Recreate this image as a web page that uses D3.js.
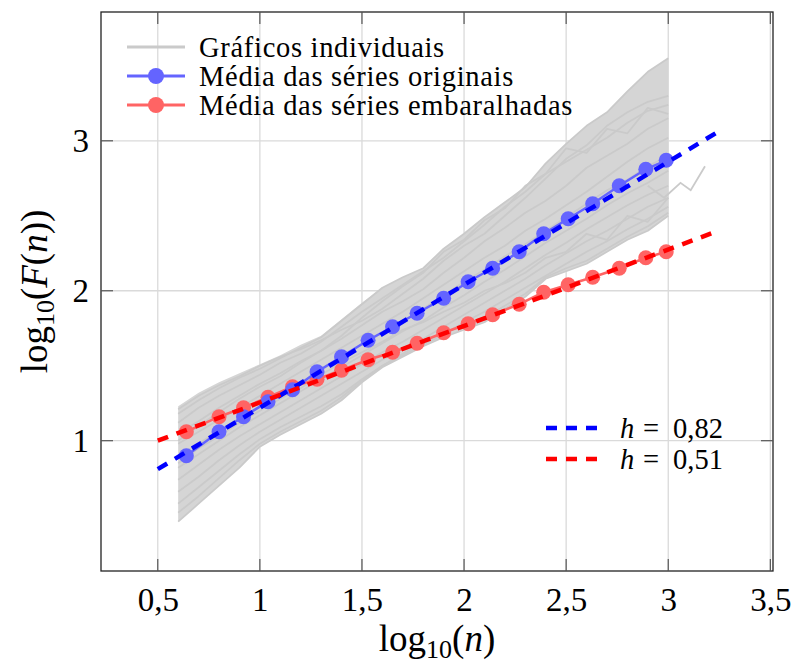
<!DOCTYPE html>
<html>
<head>
<meta charset="utf-8">
<script src="https://cdn.jsdelivr.net/npm/d3@7"></script>
<style>
  body { margin: 0; background: #fff; }
  svg text { font-family: "Liberation Serif", "Times New Roman", serif; fill: #000; }
</style>
</head>
<body>
<svg id="chart" width="794" height="669"></svg>
<script>
// ----- data (log10 n  vs  log10 F(n)) -----
var meanX     = [0.64, 0.80, 0.92, 1.04, 1.16, 1.28, 1.40, 1.53, 1.65, 1.77,
                 1.90, 2.02, 2.14, 2.27, 2.39, 2.51, 2.63, 2.76, 2.89, 2.99];
var meanOrig  = [0.90, 1.06, 1.16, 1.26, 1.34, 1.46, 1.56, 1.67, 1.76, 1.85,
                 1.95, 2.06, 2.15, 2.26, 2.38, 2.48, 2.58, 2.70, 2.81, 2.87];
var meanShuf  = [1.06, 1.16, 1.22, 1.29, 1.36, 1.41, 1.47, 1.54, 1.59, 1.65,
                 1.72, 1.78, 1.84, 1.91, 1.99, 2.04, 2.09, 2.15, 2.22, 2.26];

// fitted lines  y = h*x + b
var fitH      = [0.82, 0.51];
var fitB      = [0.40, 0.745];
var fitLabels = ["0,82", "0,51"];
var fitRange  = [0.5, 3.24];

// individual series (grey)
var indivX = [0.6, 0.7, 0.8, 0.9, 1.0, 1.1, 1.2, 1.3, 1.4, 1.5, 1.6, 1.7, 1.8,
              1.9, 2.0, 2.1, 2.2, 2.3, 2.4, 2.5, 2.6, 2.7, 2.8, 2.9, 3.0];
var bandUpper = [1.23, 1.32, 1.39, 1.45, 1.51, 1.57, 1.64, 1.70, 1.81, 1.92, 2.02, 2.09, 2.15,
                 2.28, 2.38, 2.49, 2.59, 2.69, 2.85, 2.98, 3.10, 3.19, 3.33, 3.46, 3.55];
var bandLower = [0.46, 0.58, 0.70, 0.82, 0.96, 1.04, 1.11, 1.18, 1.27, 1.39, 1.49, 1.56, 1.63,
                 1.69, 1.74, 1.79, 1.88, 1.96, 2.08, 2.13, 2.18, 2.26, 2.34, 2.40, 2.50];
var indivSeries = [
  [1.18, 1.27, 1.35, 1.42, 1.48, 1.55, 1.62, 1.69, 1.80, 1.91, 2.02, 2.09, 2.15, 2.28, 2.38, 2.49, 2.59, 2.69, 2.85, 2.98, 3.10, 3.19, 3.33, 3.46, 3.55],
  [1.21, 1.30, 1.37, 1.43, 1.50, 1.56, 1.61, 1.67, 1.74, 1.80, 1.88, 1.98, 2.08, 2.20, 2.30, 2.38, 2.50, 2.62, 2.75, 2.88, 2.97, 3.10, 3.19, 3.26, 3.30],
  [1.12, 1.22, 1.30, 1.37, 1.44, 1.52, 1.58, 1.66, 1.76, 1.86, 1.95, 2.04, 2.13, 2.22, 2.33, 2.44, 2.56, 2.66, 2.78, 2.86, 2.94, 3.02, 3.12, 3.20, 3.24],
  [1.05, 1.13, 1.22, 1.30, 1.38, 1.45, 1.53, 1.60, 1.68, 1.77, 1.86, 1.93, 2.01, 2.12, 2.22, 2.33, 2.42, 2.52, 2.60, 2.70, 2.82, 2.90, 2.98, 3.08, 3.15],
  [1.00, 1.10, 1.19, 1.28, 1.36, 1.43, 1.52, 1.60, 1.70, 1.82, 1.93, 2.03, 2.12, 2.26, 2.34, 2.47, 2.55, 2.70, 2.78, 2.95, 2.92, 3.08, 3.05, 3.22, 3.18],
  [0.98, 1.06, 1.14, 1.22, 1.30, 1.38, 1.46, 1.54, 1.62, 1.70, 1.78, 1.86, 1.95, 2.04, 2.13, 2.22, 2.30, 2.40, 2.48, 2.57, 2.66, 2.76, 2.86, 2.95, 3.02],
  [0.90, 0.98, 1.07, 1.15, 1.23, 1.31, 1.39, 1.47, 1.56, 1.64, 1.72, 1.80, 1.88, 1.97, 2.06, 2.14, 2.23, 2.31, 2.40, 2.49, 2.58, 2.67, 2.74, 2.83, 2.90],
  [0.85, 0.95, 1.03, 1.12, 1.20, 1.28, 1.35, 1.44, 1.52, 1.59, 1.66, 1.74, 1.79, 1.86, 1.92, 2.00, 2.05, 2.12, 2.22, 2.26, 2.38, 2.34, 2.50, 2.46, 2.62],
  [0.82, 0.91, 1.00, 1.09, 1.17, 1.25, 1.33, 1.41, 1.49, 1.57, 1.65, 1.73, 1.80, 1.89, 1.97, 2.06, 2.14, 2.23, 2.32, 2.40, 2.48, 2.57, 2.65, 2.72, 2.80],
  [0.74, 0.84, 0.94, 1.03, 1.11, 1.19, 1.27, 1.35, 1.43, 1.51, 1.59, 1.66, 1.74, 1.82, 1.90, 1.98, 2.06, 2.15, 2.24, 2.32, 2.41, 2.49, 2.57, 2.64, 2.70],
  [0.66, 0.76, 0.87, 0.97, 1.06, 1.14, 1.22, 1.30, 1.38, 1.46, 1.54, 1.61, 1.68, 1.76, 1.84, 1.92, 2.00, 2.08, 2.17, 2.25, 2.33, 2.40, 2.48, 2.56, 2.62],
  [0.58, 0.69, 0.80, 0.91, 1.01, 1.09, 1.16, 1.23, 1.31, 1.41, 1.50, 1.57, 1.64, 1.71, 1.79, 1.86, 1.94, 2.02, 2.10, 2.18, 2.26, 2.33, 2.41, 2.48, 2.56],
  [0.52, 0.63, 0.75, 0.87, 0.98, 1.06, 1.13, 1.20, 1.29, 1.40, 1.50, 1.58, 1.66, 1.72, 1.77, 1.82, 1.90, 1.98, 2.09, 2.15, 2.20, 2.28, 2.36, 2.43, 2.52],
  [0.46, 0.58, 0.70, 0.82, 0.96, 1.04, 1.11, 1.18, 1.27, 1.39, 1.49, 1.56, 1.63, 1.69, 1.74, 1.79, 1.88, 1.96, 2.08, 2.13, 2.18, 2.26, 2.34, 2.40, 2.50]
];
// one series that runs a bit further to the right
var strayX = [2.90, 2.98, 3.06, 3.11, 3.18];
var strayY = [2.70, 2.62, 2.72, 2.67, 2.83];

var xTicks = [0.5, 1, 1.5, 2, 2.5, 3, 3.5];
var xTickLabels = ["0,5", "1", "1,5", "2", "2,5", "3", "3,5"];
var yTicks = [1, 2, 3];
var yTickLabels = ["1", "2", "3"];
var legendLabels = ["Gráficos individuais", "Média das séries originais", "Média das séries embaralhadas"];

// ----- layout -----
var svg = d3.select("#chart");
var pL = 101, pR = 773, pT = 12, pB = 571;

var x = d3.scaleLinear().domain([0.222, 3.513]).range([pL, pR]);
var y = d3.scaleLinear().domain([0.131, 3.859]).range([pB, pT]);

var grey = "#cacaca", blueMark = "#6464ff", redMark = "#ff6464";

// grid
svg.append("g").selectAll("line").data(xTicks).enter().append("line")
    .attr("x1", function(d) { return x(d); }).attr("x2", function(d) { return x(d); })
    .attr("y1", pT).attr("y2", pB)
    .attr("stroke", "#dadada").attr("stroke-width", 1.3);
svg.append("g").selectAll("line").data(yTicks).enter().append("line")
    .attr("y1", function(d) { return y(d); }).attr("y2", function(d) { return y(d); })
    .attr("x1", pL).attr("x2", pR)
    .attr("stroke", "#dadada").attr("stroke-width", 1.3);

var plot = svg.append("g");
var line = d3.line().x(function(d) { return x(d[0]); }).y(function(d) { return y(d[1]); });

// grey band + individual series
var area = d3.area()
    .x(function(d, i) { return x(indivX[i]); })
    .y0(function(d, i) { return y(bandLower[i]); })
    .y1(function(d, i) { return y(bandUpper[i]); });
plot.append("path").datum(bandUpper).attr("d", area).attr("fill", "#d5d5d5");

indivSeries.forEach(function(s) {
  plot.append("path").datum(s.map(function(v, i) { return [indivX[i], v]; }))
      .attr("d", line).attr("fill", "none")
      .attr("stroke", grey).attr("stroke-width", 1.8).attr("stroke-linejoin", "round");
});
plot.append("path").datum(strayX.map(function(v, i) { return [v, strayY[i]]; }))
    .attr("d", line).attr("fill", "none")
    .attr("stroke", grey).attr("stroke-width", 1.8);

// mean curves
function meanCurve(vals, col) {
  var pts = vals.map(function(v, i) { return [meanX[i], v]; });
  plot.append("path").datum(pts).attr("d", line).attr("fill", "none")
      .attr("stroke", col).attr("stroke-width", 2.5);
  plot.append("g").selectAll("circle").data(pts).enter().append("circle")
      .attr("cx", function(d) { return x(d[0]); })
      .attr("cy", function(d) { return y(d[1]); })
      .attr("r", 7.5).attr("fill", col);
}
meanCurve(meanShuf, redMark);
meanCurve(meanOrig, blueMark);

// fitted dashed lines
var fitColors = ["#0000ff", "#ff0000"];
fitH.forEach(function(h, k) {
  var pts = fitRange.map(function(v) { return [v, h * v + fitB[k]]; });
  plot.append("path").datum(pts).attr("d", line)
      .attr("stroke", fitColors[k]).attr("stroke-width", 4.5)
      .attr("stroke-dasharray", "11 9");
});

// frame
svg.append("rect").attr("x", pL).attr("y", pT)
    .attr("width", pR - pL).attr("height", pB - pT)
    .attr("fill", "none").attr("stroke", "#222").attr("stroke-width", 1.3);

// inner ticks on all four sides
var tk = 12, tg = svg.append("g").attr("stroke", "#555").attr("stroke-width", 1.2);
xTicks.forEach(function(d) {
  tg.append("line").attr("x1", x(d)).attr("x2", x(d)).attr("y1", pB).attr("y2", pB - tk);
  tg.append("line").attr("x1", x(d)).attr("x2", x(d)).attr("y1", pT).attr("y2", pT + tk);
});
yTicks.forEach(function(d) {
  tg.append("line").attr("y1", y(d)).attr("y2", y(d)).attr("x1", pL).attr("x2", pL + tk);
  tg.append("line").attr("y1", y(d)).attr("y2", y(d)).attr("x1", pR).attr("x2", pR - tk);
});

// tick labels
var xAxis = d3.axisBottom(x).tickValues(xTicks).tickSize(0).tickPadding(17)
    .tickFormat(function(d, i) { return xTickLabels[i]; });
var gx = svg.append("g").attr("transform", "translate(0," + pB + ")").call(xAxis);
var yAxis = d3.axisLeft(y).tickValues(yTicks).tickSize(0).tickPadding(12)
    .tickFormat(function(d, i) { return yTickLabels[i]; });
var gy = svg.append("g").attr("transform", "translate(" + pL + ",0)").call(yAxis);
[gx, gy].forEach(function(g) {
  g.select(".domain").remove();
  g.selectAll("text").attr("font-family", "Liberation Serif").attr("font-size", 33).attr("fill", "#000");
});

// axis titles
function axisTitle(sel, parts) {
  sel.append("tspan").text("log");
  sel.append("tspan").attr("font-size", 26).attr("dy", 7).text("10");
  sel.append("tspan").attr("dy", -7).text("(");
  parts.forEach(function(p) {
    var t = sel.append("tspan").text(p[0]);
    if (p[1]) t.attr("font-style", "italic");
  });
}
var xl = svg.append("text").attr("x", (pL + pR) / 2).attr("y", 651)
    .attr("text-anchor", "middle").attr("font-size", 37);
axisTitle(xl, [["n", 1], [")", 0]]);

var yl = svg.append("text").attr("transform", "translate(47," + (pT + pB) / 2 + ") rotate(-90)")
    .attr("text-anchor", "middle").attr("font-size", 37);
axisTitle(yl, [["F", 1], ["(", 0], ["n", 1], ["))", 0]]);

// main legend (top left, no frame)
var legCols = [grey, blueMark, redMark];
var leg = svg.append("g");
legendLabels.forEach(function(lab, i) {
  var ly = 47 + i * 29;
  leg.append("line").attr("x1", 127).attr("x2", 185).attr("y1", ly).attr("y2", ly)
      .attr("stroke", legCols[i]).attr("stroke-width", 3);
  if (i > 0) leg.append("circle").attr("cx", 156).attr("cy", ly).attr("r", 8).attr("fill", legCols[i]);
  leg.append("text").attr("x", 199).attr("y", ly + 10).attr("font-size", 28.5)
      .attr("letter-spacing", 0.7).text(lab);
});

// fit legend (bottom right)
var fleg = svg.append("g");
fitLabels.forEach(function(lab, i) {
  var ly = 428 + i * 31;
  fleg.append("line").attr("x1", 546).attr("x2", 600).attr("y1", ly).attr("y2", ly)
      .attr("stroke", fitColors[i]).attr("stroke-width", 4.5).attr("stroke-dasharray", "11 9");
  var t = fleg.append("text").attr("y", ly + 10).attr("font-size", 28.5);
  t.append("tspan").attr("x", 620).attr("font-style", "italic").text("h");
  t.append("tspan").attr("x", 643).text("=");
  t.append("tspan").attr("x", 673).text(lab);
});
</script>
</body>
</html>
